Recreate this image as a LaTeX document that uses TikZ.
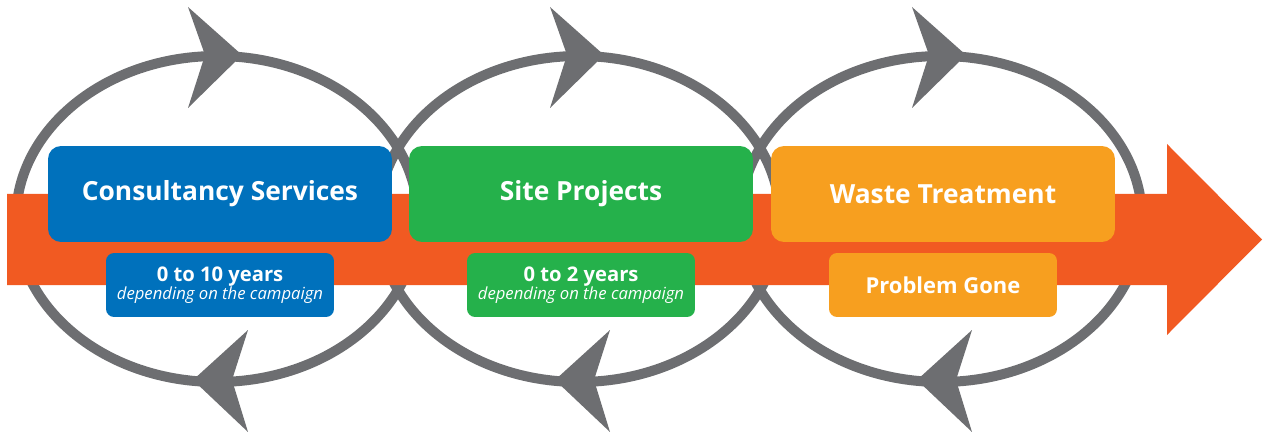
\documentclass[tikz,border=0pt]{standalone}
\usepackage{fontspec}
\setmainfont{Open Sans}

\definecolor{loopgray}{HTML}{6D6E71}
\definecolor{flowred}{HTML}{F15A22}
\definecolor{consblue}{HTML}{0071BC}
\definecolor{sitegreen}{HTML}{25B14B}
\definecolor{wasteamber}{HTML}{F79F1F}

\tikzset{
  looprim/.style={draw=loopgray, line width=0.2cm},
  loophead/.style={fill=loopgray},
  mainbox/.style={rounded corners=0.26cm, minimum width=6.88cm, minimum height=1.92cm,
    inner sep=0pt, text=white, font=\fontsize{15}{18}\selectfont\bfseries},
  subbox/.style={rounded corners=0.16cm, minimum width=4.56cm, minimum height=1.28cm,
    inner sep=0pt, text=white, align=center},
}

\begin{document}
\begin{tikzpicture}[x=0.02cm, y=-0.02cm]
    \useasboundingbox (0,0) rectangle (1264,432);

    % the three loops
    \draw[looprim] (217,219) ellipse[x radius=201, y radius=163];
    \draw[looprim] (579,219) ellipse[x radius=201, y radius=163];
    \draw[looprim] (941,219) ellipse[x radius=201, y radius=163];

    \fill[loophead] (188,7)   -- (242,55)  -- (188,108)  -- (205,55)  -- cycle;
    \fill[loophead] (550,7)   -- (604,55)  -- (550,108)  -- (567,55)  -- cycle;
    \fill[loophead] (912,7)   -- (966,55)  -- (912,108)  -- (929,55)  -- cycle;
    \fill[loophead] (193,380) -- (248,330) -- (232,380)  -- (248,432) -- cycle;
    \fill[loophead] (555,380) -- (610,330) -- (594,380)  -- (610,432) -- cycle;
    \fill[loophead] (917,380) -- (972,330) -- (956,380)  -- (972,432) -- cycle;

    % the flow arrow
    \fill[flowred] (7,194) -- (1167,194) -- (1167,144) -- (1262,239.5)
                   -- (1167,335) -- (1167,285) -- (7,285) -- cycle;

    \node[mainbox, fill=consblue]   (consult) at (220,194) {Consultancy Services};
    \node[mainbox, fill=sitegreen]  (site)    at (581,194) {Site Projects};
    \node[mainbox, fill=wasteamber] (waste)   at (943,194) {Waste Treatment};

    \node[subbox, fill=consblue]  (consulttime) at (220,285)
      {{\fontsize{11.5}{13}\selectfont\bfseries 0 to 10 years}\\[-2pt]
       {\fontsize{9.5}{10}\selectfont\itshape depending on the campaign}};
    \node[subbox, fill=sitegreen] (sitetime)    at (581,285)
      {{\fontsize{11.5}{13}\selectfont\bfseries 0 to 2 years}\\[-2pt]
       {\fontsize{9.5}{10}\selectfont\itshape depending on the campaign}};
    \node[subbox, fill=wasteamber, font=\fontsize{12.5}{14}\selectfont\bfseries] (wastetime) at (943,285)
      {Problem Gone};
  \end{tikzpicture}
\end{document}
